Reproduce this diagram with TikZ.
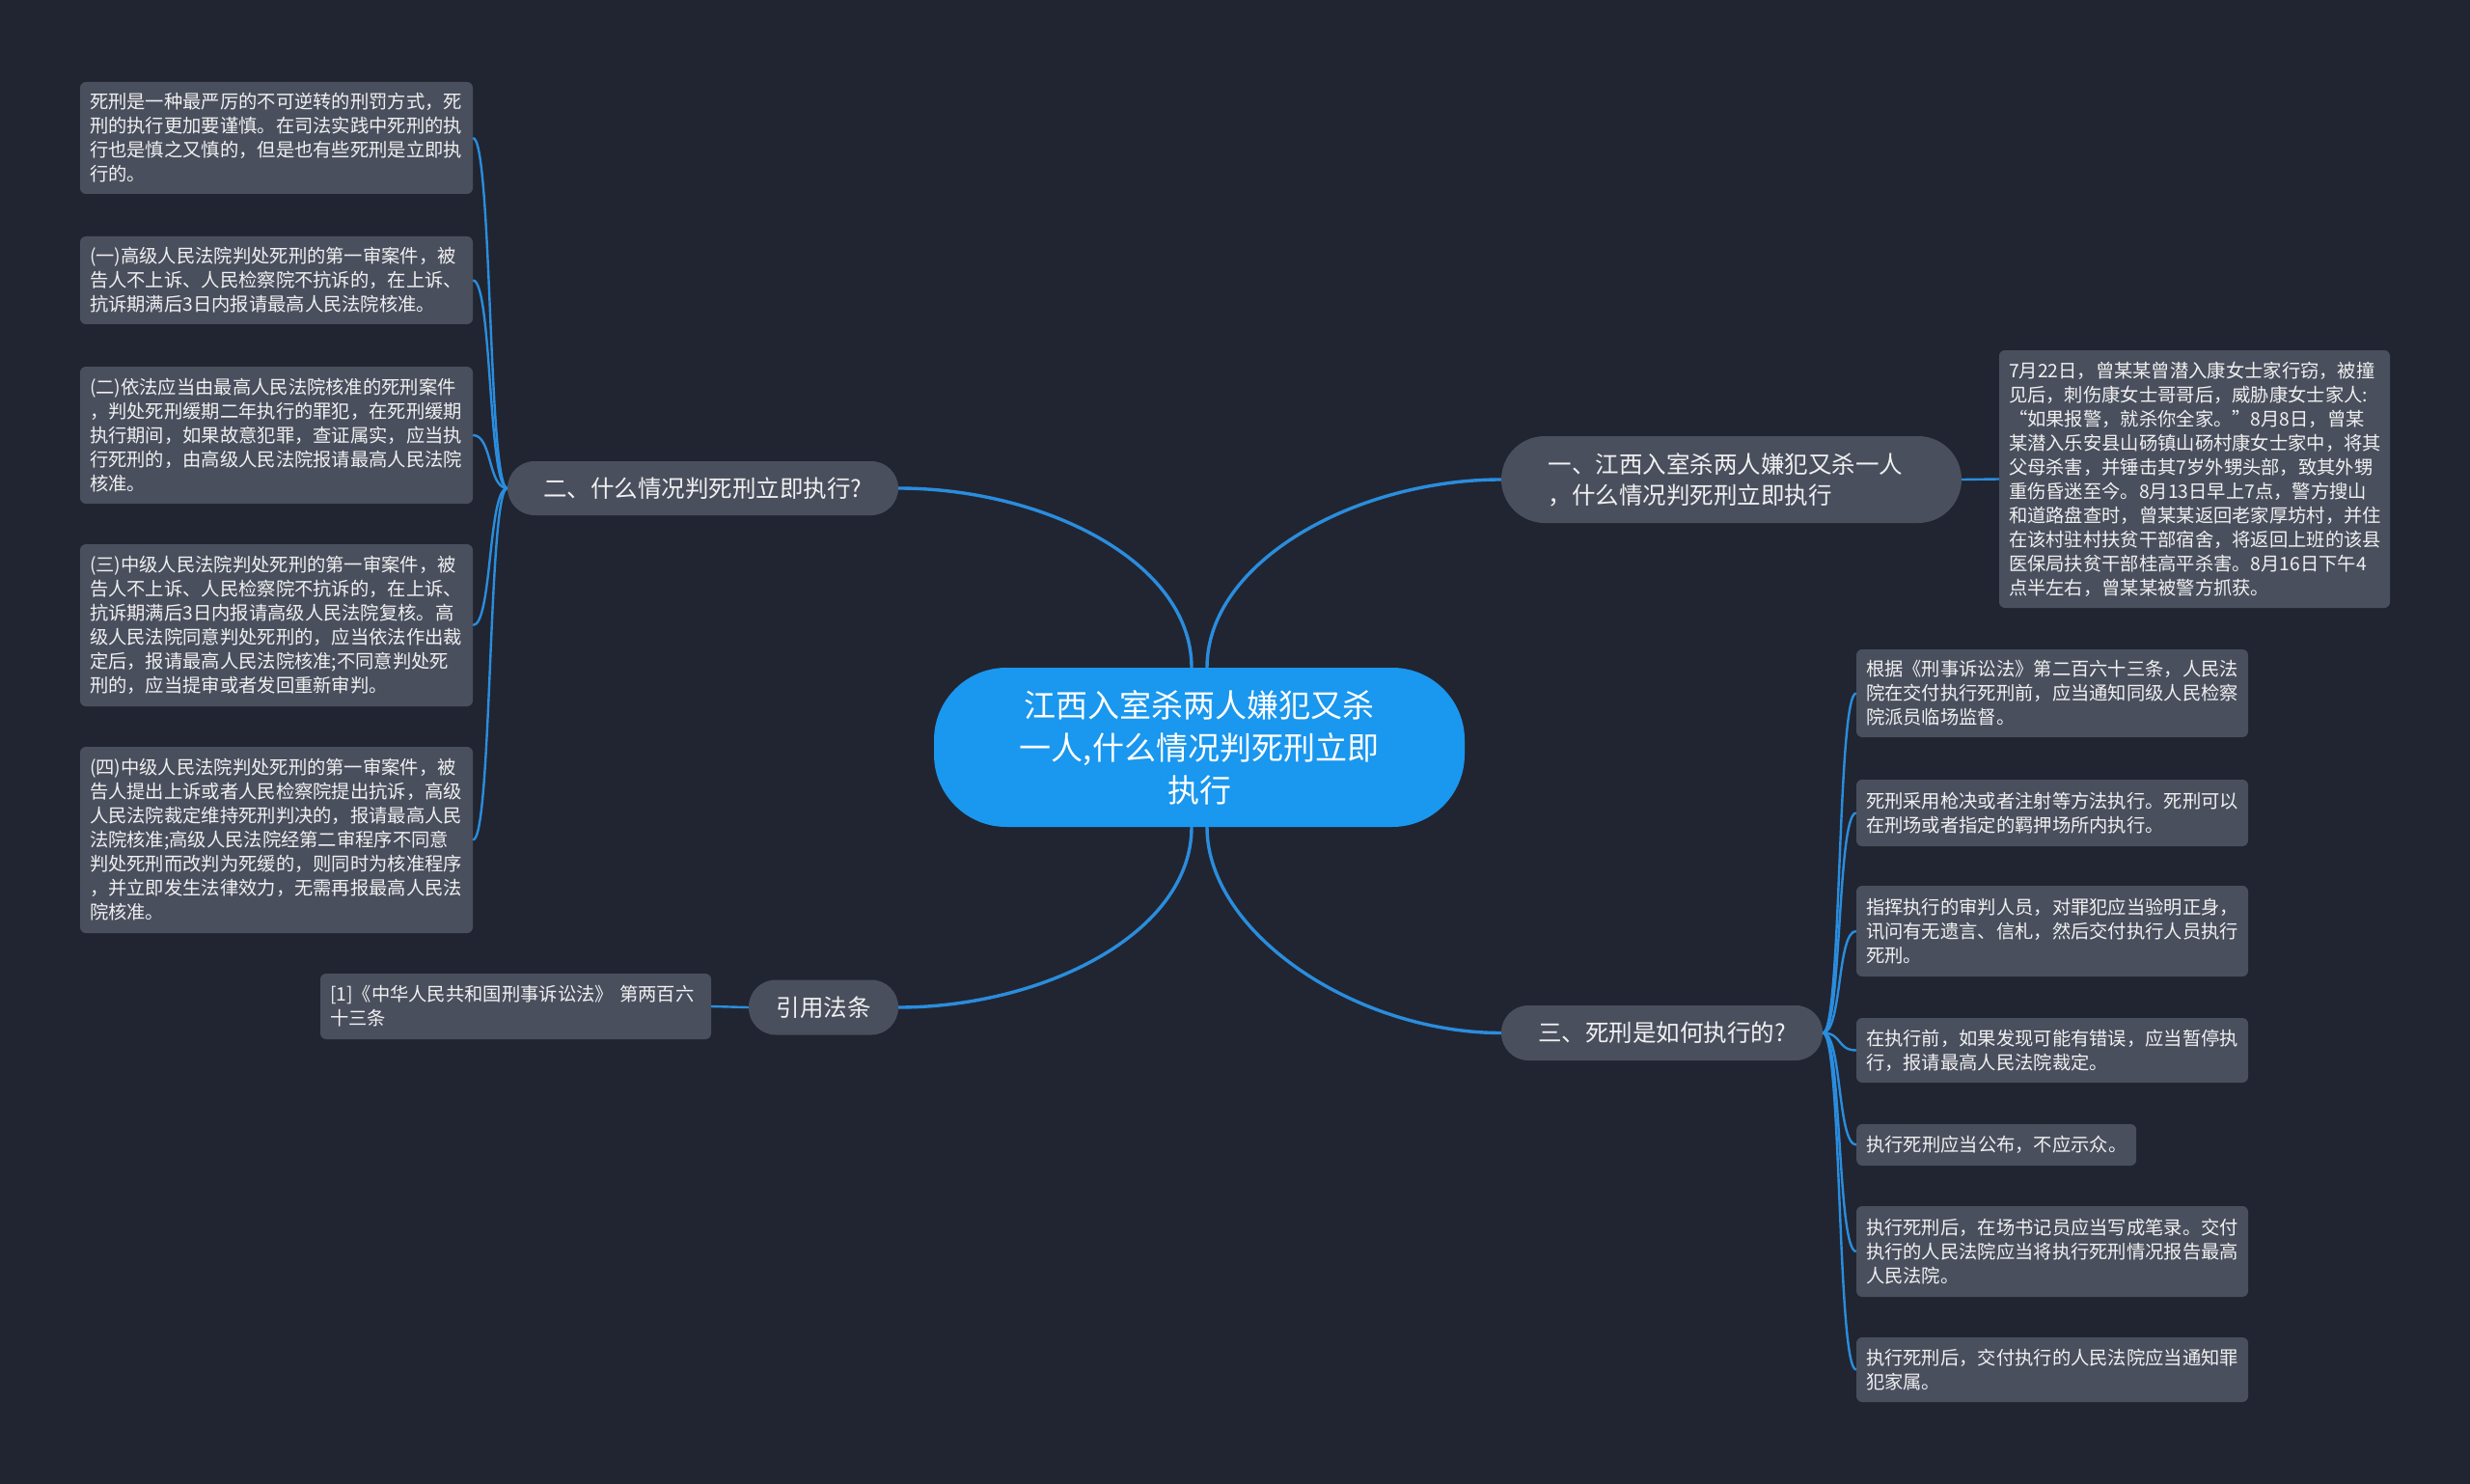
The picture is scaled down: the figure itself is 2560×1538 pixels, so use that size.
\documentclass[tikz,border=0pt]{standalone}
\usepackage{fontspec}
\setmainfont{Noto Sans CJK SC}
\definecolor{bgc}{RGB}{33,37,49}
\definecolor{boxc}{RGB}{74,79,94}
\definecolor{cenc}{RGB}{26,151,238}
\definecolor{linc}{RGB}{42,141,222}
\definecolor{txtc}{RGB}{240,240,240}
\tikzset{
  leaf/.style={fill=boxc, rounded corners=6pt, text=txtc, align=left,
    font=\fontsize{19.3}{25}\selectfont, inner xsep=10pt, inner ysep=0pt, text width=387pt},
  pill/.style={fill=boxc, text=txtc, font=\fontsize{24.5}{32}\selectfont, inner sep=0pt},
  cen/.style={fill=cenc, text=white, rounded corners=75pt, align=center,
    font=\fontsize{33}{44}\selectfont, minimum width=550pt, minimum height=165pt, text width=390pt},
  mainlink/.style={draw=linc, line width=3.4pt},
  leaflink/.style={draw=linc, line width=2.4pt}
}
\begin{document}
\begin{tikzpicture}[x=1pt,y=-1pt]
\fill[bgc] (0,0) rectangle (2560,1538);
\useasboundingbox (0,0) rectangle (2560,1538);

% center
\node[cen] (c) at (1243,774.5) {江西入室杀两人嫌犯又杀\\一人,什么情况判死刑立即\\执行};

% branch pills
\node[pill, rounded corners=28pt, minimum width=405pt, minimum height=56pt] (b2) at (728.5,506) {二、什么情况判死刑立即执行?};
\node[pill, rounded corners=45pt, minimum width=477pt, minimum height=90pt, text width=380pt, align=left] (b1) at (1794.5,497) {一、江西入室杀两人嫌犯又杀一人\\，什么情况判死刑立即执行};
\node[pill, rounded corners=28pt, minimum width=155pt, minimum height=57pt] (b4) at (853.5,1044) {引用法条};
\node[pill, rounded corners=28pt, minimum width=333pt, minimum height=57pt] (b3) at (1722.5,1070.5) {三、死刑是如何执行的?};

% left leaves
\node[leaf, minimum height=116pt] (l1) at (286.5,143) {死刑是一种最严厉的不可逆转的刑罚方式，死\\刑的执行更加要谨慎。在司法实践中死刑的执\\行也是慎之又慎的，但是也有些死刑是立即执\\行的。};
\node[leaf, minimum height=91pt] (l2) at (286.5,290.5) {(一)高级人民法院判处死刑的第一审案件，被\\告人不上诉、人民检察院不抗诉的，在上诉、\\抗诉期满后3日内报请最高人民法院核准。};
\node[leaf, minimum height=142pt] (l3) at (286.5,451) {(二)依法应当由最高人民法院核准的死刑案件\\，判处死刑缓期二年执行的罪犯，在死刑缓期\\执行期间，如果故意犯罪，查证属实，应当执\\行死刑的，由高级人民法院报请最高人民法院\\核准。};
\node[leaf, minimum height=168pt] (l4) at (286.5,648) {(三)中级人民法院判处死刑的第一审案件，被\\告人不上诉、人民检察院不抗诉的，在上诉、\\抗诉期满后3日内报请高级人民法院复核。高\\级人民法院同意判处死刑的，应当依法作出裁\\定后，报请最高人民法院核准;不同意判处死\\刑的，应当提审或者发回重新审判。};
\node[leaf, minimum height=193pt] (l5) at (286.5,870.5) {(四)中级人民法院判处死刑的第一审案件，被\\告人提出上诉或者人民检察院提出抗诉，高级\\人民法院裁定维持死刑判决的，报请最高人民\\法院核准;高级人民法院经第二审程序不同意\\判处死刑而改判为死缓的，则同时为核准程序\\，并立即发生法律效力，无需再报最高人民法\\院核准。};

% citation
\node[leaf, minimum height=68pt, text width=385pt] (ct) at (534.5,1043) {[1]《中华人民共和国刑事诉讼法》 第两百六\\十三条};

% right top
\node[leaf, minimum height=267pt, text width=385pt] (r0) at (2274.5,496.5) {7月22日，曾某某曾潜入康女士家行窃，被撞\\见后，刺伤康女士哥哥后，威胁康女士家人:\\“如果报警，就杀你全家。”8月8日，曾某\\某潜入乐安县山砀镇山砀村康女士家中，将其\\父母杀害，并锤击其7岁外甥头部，致其外甥\\重伤昏迷至今。8月13日早上7点，警方搜山\\和道路盘查时，曾某某返回老家厚坊村，并住\\在该村驻村扶贫干部宿舍，将返回上班的该县\\医保局扶贫干部桂高平杀害。8月16日下午4\\点半左右，曾某某被警方抓获。};

% right leaves
\node[leaf, minimum height=91pt, text width=386pt] (ra) at (2127,718.5) {根据《刑事诉讼法》第二百六十三条，人民法\\院在交付执行死刑前，应当通知同级人民检察\\院派员临场监督。};
\node[leaf, minimum height=69pt, text width=386pt] (rb) at (2127,842.5) {死刑采用枪决或者注射等方法执行。死刑可以\\在刑场或者指定的羁押场所内执行。};
\node[leaf, minimum height=94pt, text width=386pt] (rc) at (2127,965) {指挥执行的审判人员，对罪犯应当验明正身，\\讯问有无遗言、信札，然后交付执行人员执行\\死刑。};
\node[leaf, minimum height=67pt, text width=386pt] (rd) at (2127,1088.5) {在执行前，如果发现可能有错误，应当暂停执\\行，报请最高人民法院裁定。};
\node[leaf, minimum height=43pt, text width=270pt, anchor=west] (re) at (1924,1186.5) {执行死刑应当公布，不应示众。};
\node[leaf, minimum height=94pt, text width=386pt] (rf) at (2127,1297) {执行死刑后，在场书记员应当写成笔录。交付\\执行的人民法院应当将执行死刑情况报告最高\\人民法院。};
\node[leaf, minimum height=67pt, text width=386pt] (rg) at (2127,1419.5) {执行死刑后，交付执行的人民法院应当通知罪\\犯家属。};

% main links
\draw[mainlink] ([xshift=-8pt]c.north) .. controls +(0,-110) and +(150,0) .. (b2.east);
\draw[mainlink] ([xshift=8pt]c.north) .. controls +(0,-110) and +(-150,0) .. (b1.west);
\draw[mainlink] ([xshift=-8pt]c.south) .. controls +(0,110) and +(150,0) .. (b4.east);
\draw[mainlink] ([xshift=8pt]c.south) .. controls +(0,110) and +(-150,0) .. (b3.west);

% straight links
\draw[leaflink] (b1.east) -- (r0.west);
\draw[leaflink] (b4.west) -- (ct.east);

% left leaf links
\foreach \n in {l1,l2,l3,l4,l5}
  \draw[leaflink] (b2.west) .. controls +(-20,0) and +(20,0) .. (\n.east);
% right leaf links
\foreach \n in {ra,rb,rc,rd,re,rf,rg}
  \draw[leaflink] (b3.east) .. controls +(20,0) and +(-20,0) .. (\n.west);
\end{tikzpicture}
\end{document}
